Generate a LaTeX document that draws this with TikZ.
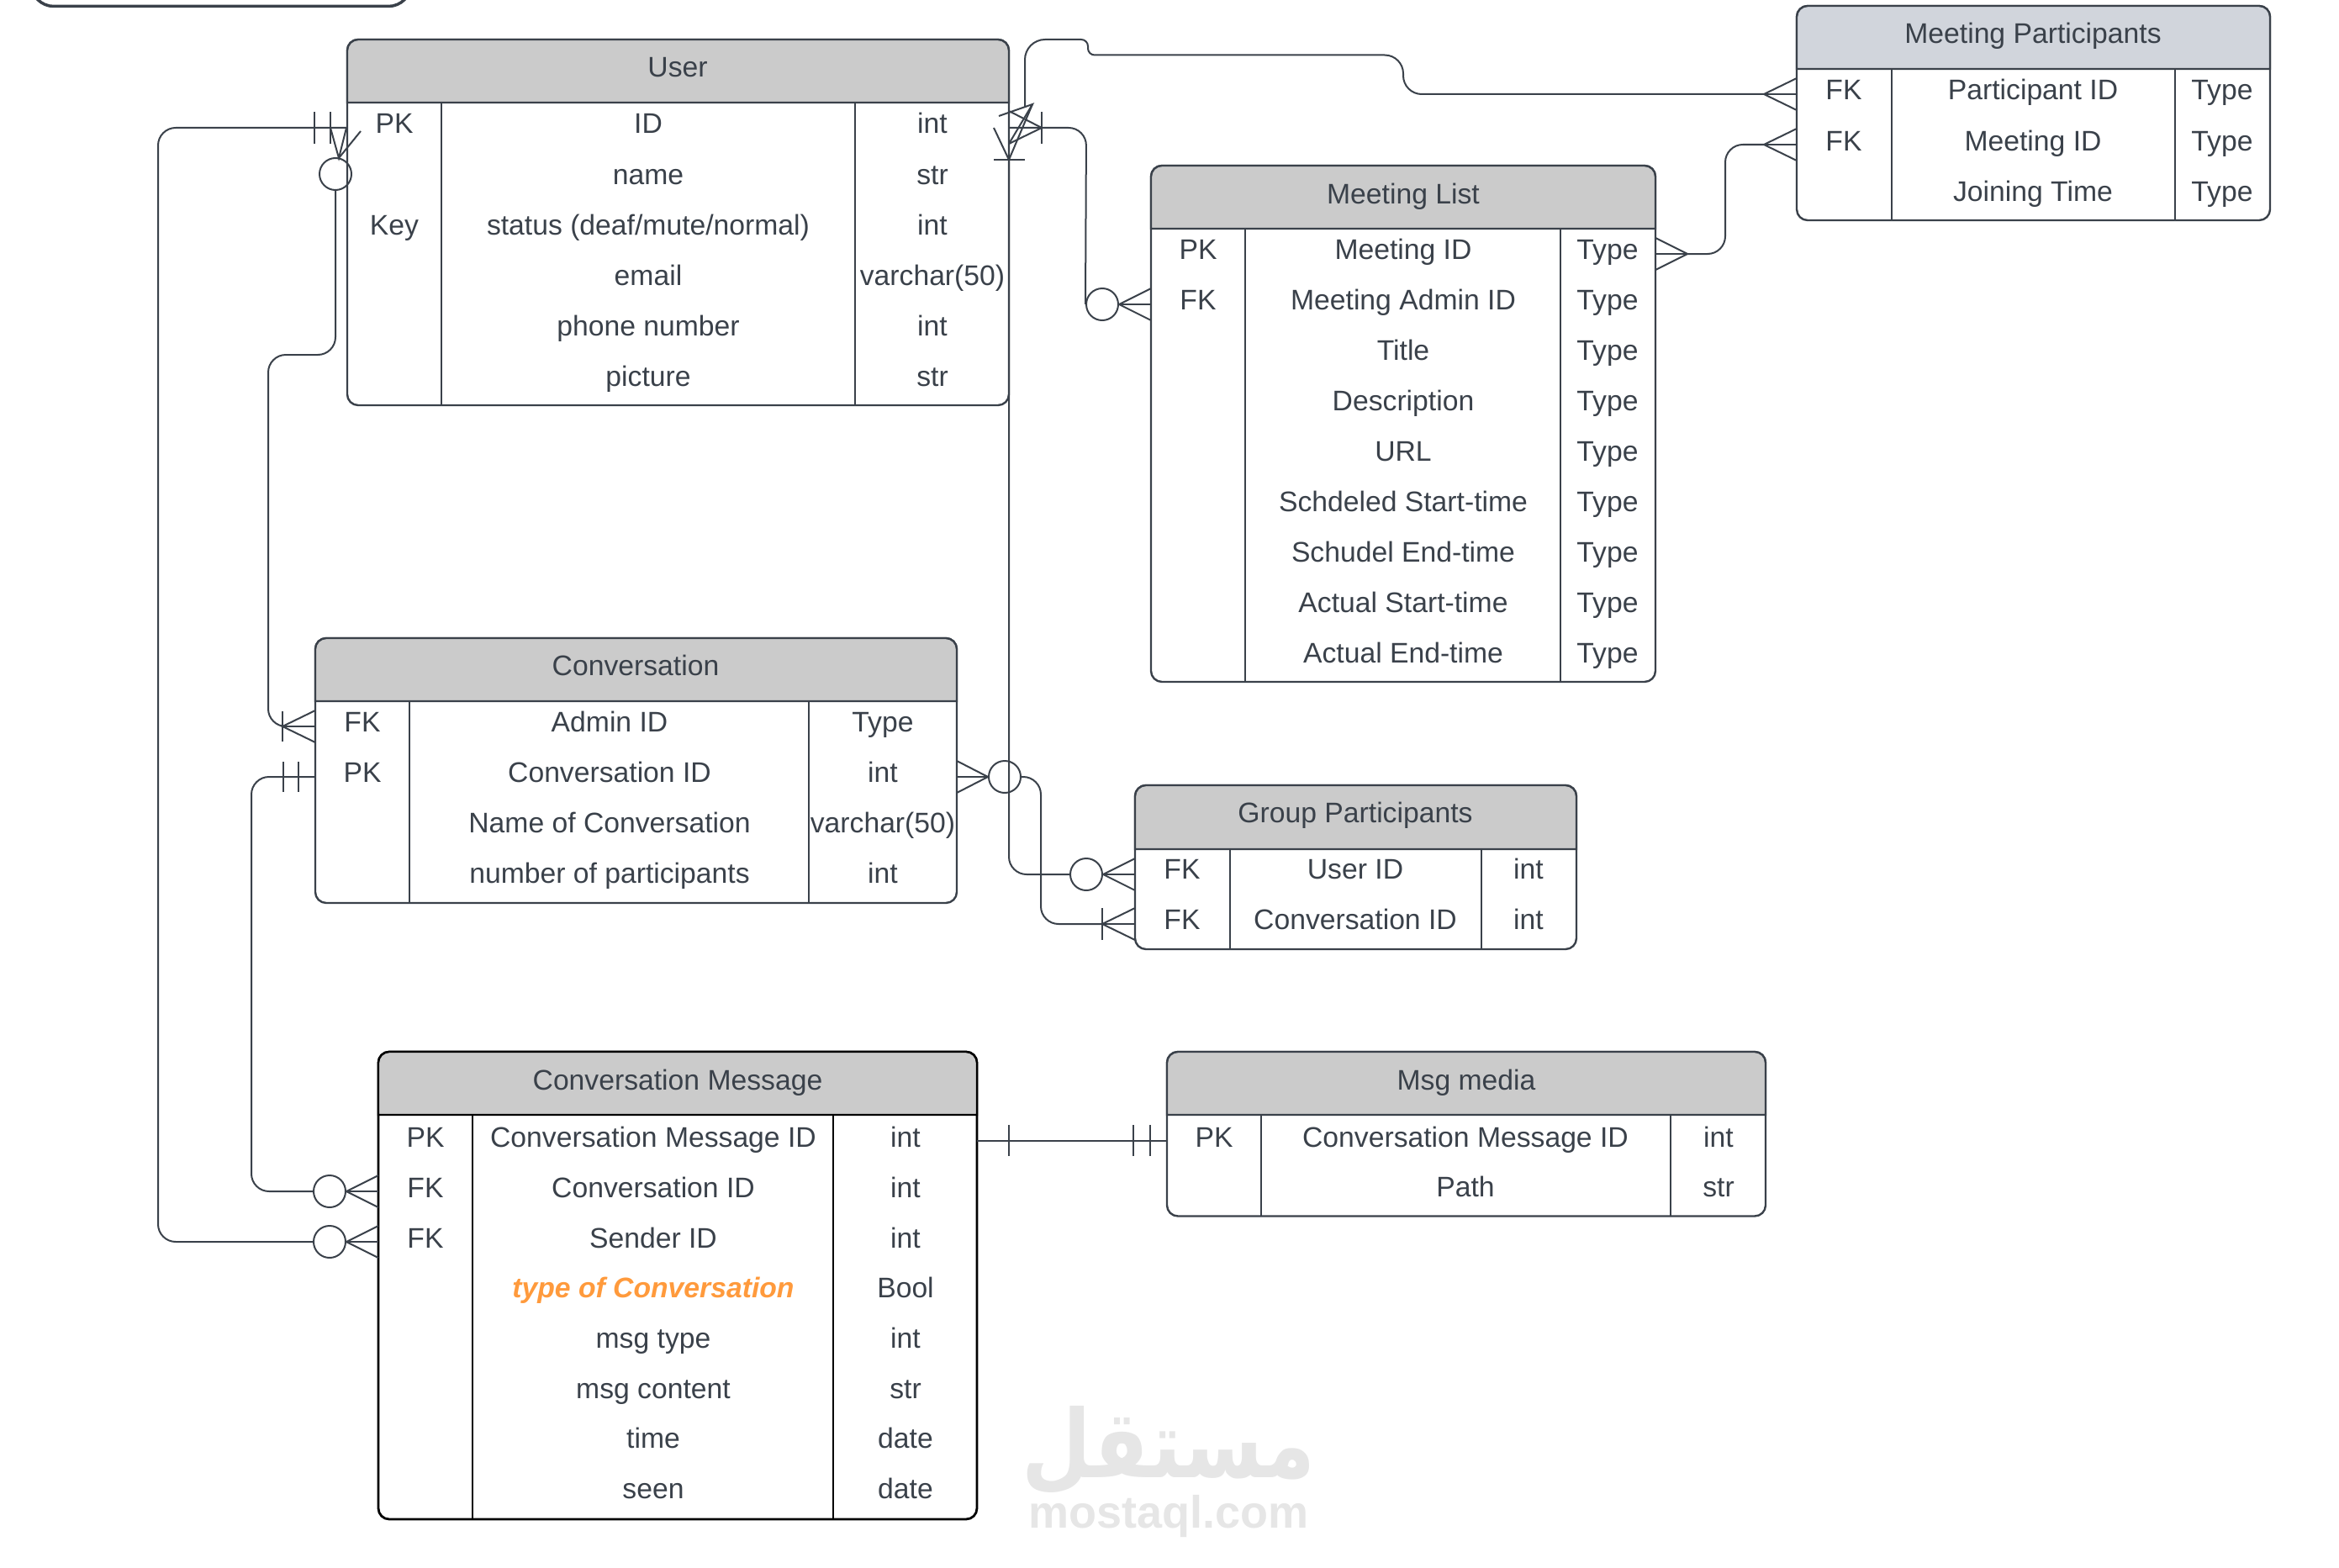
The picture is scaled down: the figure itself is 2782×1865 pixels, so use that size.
\documentclass[tikz,border=0pt]{standalone}
\usepackage{fontspec}
\setmainfont{Liberation Sans}
\newfontfamily\arabicfont[Script=Arabic]{DejaVu Sans}
\TeXXeTstate=1
\definecolor{inkgray}{HTML}{3A414A}
\definecolor{headgray}{HTML}{CBCBCB}
\definecolor{headblue}{HTML}{D1D5DC}
\definecolor{markgray}{HTML}{E6E6E6}
\definecolor{typeorange}{HTML}{FF9A3C}
\tikzset{
    tablebox/.style={draw=inkgray,line width=2.4pt,rounded corners=13pt},
    headbox/.style={draw=inkgray,line width=2.4pt,fill=headgray},
    colline/.style={draw=inkgray,line width=1.8pt},
    link/.style={draw=inkgray,line width=2pt},
    zero/.style={circle,draw=inkgray,line width=2pt,minimum size=38pt,inner sep=0pt},
    cell/.style={anchor=base,inner sep=0pt,text=inkgray,font=\fontsize{33.7}{40}\selectfont},
}

\begin{document}
\begin{tikzpicture}[x=1pt,y=-1pt]
    \clip (0,0) rectangle (2782,1865);
    \draw[draw=inkgray,line width=3.5pt,rounded corners=27pt] (37,-60) rectangle (489,7.5);

    % User
    \draw[tablebox] (413,47) rectangle (1200,482);
    \draw[headbox] (413,122) [rounded corners=13pt] -- (413,47) -- (1200,47) [sharp corners] -- (1200,122) -- cycle;
    \draw[colline] (525,122) -- (525,482);
    \draw[colline] (1017,122) -- (1017,482);
    \node[cell] (user-title) at (806,92) {User};
    \node[cell] (user-pk) at (469,159) {PK};
    \node[cell] (user-id) at (771,159) {ID};
    \node[cell] (user-idt) at (1109,159) {int};
    \node[cell] (user-name) at (771,219) {name};
    \node[cell] (user-namet) at (1109,219) {str};
    \node[cell] (user-key) at (469,279) {Key};
    \node[cell] (user-status) at (771,279) {status (deaf/mute/normal)};
    \node[cell] (user-statust) at (1109,279) {int};
    \node[cell] (user-email) at (771,339) {email};
    \node[cell] (user-emailt) at (1109,339) {varchar(50)};
    \node[cell] (user-phone) at (771,399) {phone number};
    \node[cell] (user-phonet) at (1109,399) {int};
    \node[cell] (user-pic) at (771,459) {picture};
    \node[cell] (user-pict) at (1109,459) {str};

    % Meeting List
    \draw[tablebox] (1369,197) rectangle (1969,811);
    \draw[headbox] (1369,272) [rounded corners=13pt] -- (1369,197) -- (1969,197) [sharp corners] -- (1969,272) -- cycle;
    \draw[colline] (1481,272) -- (1481,811);
    \draw[colline] (1856,272) -- (1856,811);
    \node[cell] (meet-title) at (1669,242) {Meeting List};
    \node[cell] (meet-pk) at (1425,308) {PK};
    \node[cell] (meet-id) at (1669,308) {Meeting ID};
    \node[cell] (meet-idt) at (1912,308) {Type};
    \node[cell] (meet-fk) at (1425,368) {FK};
    \node[cell] (meet-admin) at (1669,368) {Meeting Admin ID};
    \node[cell] (meet-admint) at (1912,368) {Type};
    \node[cell] (meet-ttl) at (1669,428) {Title};
    \node[cell] (meet-ttlt) at (1912,428) {Type};
    \node[cell] (meet-desc) at (1669,488) {Description};
    \node[cell] (meet-desct) at (1912,488) {Type};
    \node[cell] (meet-url) at (1669,548) {URL};
    \node[cell] (meet-urlt) at (1912,548) {Type};
    \node[cell] (meet-sst) at (1669,608) {Schdeled Start-time};
    \node[cell] (meet-sstt) at (1912,608) {Type};
    \node[cell] (meet-set) at (1669,668) {Schudel End-time};
    \node[cell] (meet-sett) at (1912,668) {Type};
    \node[cell] (meet-ast) at (1669,728) {Actual Start-time};
    \node[cell] (meet-astt) at (1912,728) {Type};
    \node[cell] (meet-aet) at (1669,788) {Actual End-time};
    \node[cell] (meet-aett) at (1912,788) {Type};

    % Meeting Participants
    \draw[tablebox] (2137,7) rectangle (2700,262);
    \draw[headbox,fill=headblue] (2137,82) [rounded corners=13pt] -- (2137,7) -- (2700,7) [sharp corners] -- (2700,82) -- cycle;
    \draw[colline] (2250,82) -- (2250,262);
    \draw[colline] (2587,82) -- (2587,262);
    \node[cell] (part-title) at (2418,52) {Meeting Participants};
    \node[cell] (part-fka) at (2193,119) {FK};
    \node[cell] (part-id) at (2418,119) {Participant ID};
    \node[cell] (part-idt) at (2643,119) {Type};
    \node[cell] (part-fkb) at (2193,179) {FK};
    \node[cell] (part-meet) at (2418,179) {Meeting ID};
    \node[cell] (part-meett) at (2643,179) {Type};
    \node[cell] (part-join) at (2418,239) {Joining Time};
    \node[cell] (part-joint) at (2643,239) {Type};

    % Conversation
    \draw[tablebox] (375,759) rectangle (1138,1074);
    \draw[headbox] (375,834) [rounded corners=13pt] -- (375,759) -- (1138,759) [sharp corners] -- (1138,834) -- cycle;
    \draw[colline] (487,834) -- (487,1074);
    \draw[colline] (962,834) -- (962,1074);
    \node[cell] (conv-title) at (756,803) {Conversation};
    \node[cell] (conv-fk) at (431,870) {FK};
    \node[cell] (conv-admin) at (725,870) {Admin ID};
    \node[cell] (conv-admint) at (1050,870) {Type};
    \node[cell] (conv-pk) at (431,930) {PK};
    \node[cell] (conv-id) at (725,930) {Conversation ID};
    \node[cell] (conv-idt) at (1050,930) {int};
    \node[cell] (conv-name) at (725,990) {Name of Conversation};
    \node[cell] (conv-namet) at (1050,990) {varchar(50)};
    \node[cell] (conv-num) at (725,1050) {number of participants};
    \node[cell] (conv-numt) at (1050,1050) {int};

    % Group Participants
    \draw[tablebox] (1350,934) rectangle (1875,1129);
    \draw[headbox] (1350,1010) [rounded corners=13pt] -- (1350,934) -- (1875,934) [sharp corners] -- (1875,1010) -- cycle;
    \draw[colline] (1463,1010) -- (1463,1129);
    \draw[colline] (1762,1010) -- (1762,1129);
    \node[cell] (grp-title) at (1612,978) {Group Participants};
    \node[cell] (grp-fka) at (1406,1045.5) {FK};
    \node[cell] (grp-user) at (1612,1045.5) {User ID};
    \node[cell] (grp-usert) at (1818,1045.5) {int};
    \node[cell] (grp-fkb) at (1406,1105) {FK};
    \node[cell] (grp-conv) at (1612,1105) {Conversation ID};
    \node[cell] (grp-convt) at (1818,1105) {int};

    % Conversation Message
    \draw[tablebox,draw=black,line width=2.8pt] (450,1251) rectangle (1162,1807);
    \draw[headbox,draw=black] (450,1326) [rounded corners=13pt] -- (450,1251) -- (1162,1251) [sharp corners] -- (1162,1326) -- cycle;
    \draw[colline,draw=black] (562,1326) -- (562,1807);
    \draw[colline,draw=black] (991,1326) -- (991,1807);
    \node[cell] (msg-title) at (806,1296) {Conversation Message};
    \node[cell] (msg-pk) at (506,1364) {PK};
    \node[cell] (msg-id) at (777,1364) {Conversation Message ID};
    \node[cell] (msg-idt) at (1077,1364) {int};
    \node[cell] (msg-fka) at (506,1424) {FK};
    \node[cell] (msg-conv) at (777,1424) {Conversation ID};
    \node[cell] (msg-convt) at (1077,1424) {int};
    \node[cell] (msg-fkb) at (506,1484) {FK};
    \node[cell] (msg-send) at (777,1484) {Sender ID};
    \node[cell] (msg-sendt) at (1077,1484) {int};
    \node[cell,text=typeorange,font=\fontsize{33.7}{40}\selectfont\bfseries\itshape] (msg-type) at (777,1543) {type of Conversation};
    \node[cell] (msg-typet) at (1077,1543) {Bool};
    \node[cell] (msg-mtype) at (777,1603) {msg type};
    \node[cell] (msg-mtypet) at (1077,1603) {int};
    \node[cell] (msg-cont) at (777,1663) {msg content};
    \node[cell] (msg-contt) at (1077,1663) {str};
    \node[cell] (msg-time) at (777,1722) {time};
    \node[cell] (msg-timet) at (1077,1722) {date};
    \node[cell] (msg-seen) at (777,1782) {seen};
    \node[cell] (msg-seent) at (1077,1782) {date};

    % Msg media
    \draw[tablebox] (1388,1251) rectangle (2100,1446.5);
    \draw[headbox] (1388,1326) [rounded corners=13pt] -- (1388,1251) -- (2100,1251) [sharp corners] -- (2100,1326) -- cycle;
    \draw[colline] (1500,1326) -- (1500,1446.5);
    \draw[colline] (1987,1326) -- (1987,1446.5);
    \node[cell] (media-title) at (1744,1296) {Msg media};
    \node[cell] (media-pk) at (1444,1364) {PK};
    \node[cell] (media-id) at (1743,1364) {Conversation Message ID};
    \node[cell] (media-idt) at (2044,1364) {int};
    \node[cell] (media-path) at (1743,1423) {Path};
    \node[cell] (media-patht) at (2044,1423) {str};

    % end points of the connectors
    \coordinate (user-w) at (412,152);
    \coordinate (user-e) at (1200,152);
    \coordinate (user-up) at (1219,128);
    \coordinate (user-dn) at (1200,190);
    \coordinate (meet-e) at (2007,302);
    \coordinate (part-a) at (2098,112);
    \coordinate (part-b) at (2098,172);
    \coordinate (conv-a) at (336,864);
    \coordinate (conv-b) at (375,924);
    \coordinate (grp-b) at (1311,1099);
    \coordinate (msg-e) at (1162,1356.5);
    \coordinate (media-w) at (1388,1356.5);

    \node[zero] (zero-user) at (399,207) {};
    \node[zero] (zero-meet) at (1311,362) {};
    \node[zero] (zero-conv) at (1195,924) {};
    \node[zero] (zero-grp) at (1292,1040) {};
    \node[zero] (zero-msga) at (392,1417) {};
    \node[zero] (zero-msgb) at (392,1477) {};

    % connectors
    \draw[link,rounded corners=21pt] (user-w) -- (188,152) -- (188,1477) -- (zero-msgb.west);
    \draw[link,rounded corners=21pt] (zero-user.south) -- (399,422) -- (319,422) -- (319,864) -- (conv-a);
    \draw[link,rounded corners=21pt] (user-e) -- (1292,152) -- (zero-meet.west);
    \draw[link] (user-up) [rounded corners=24pt] -- (1219,47) [rounded corners=8pt] -- (1294,47) -- (1294,65.5) [rounded corners=22pt] -- (1669,65.5) -- (1669,112) -- (part-a);
    \draw[link,rounded corners=21pt] (meet-e) -- (2052,302) -- (2052,172) -- (part-b);
    \draw[link,rounded corners=21pt] (user-dn) -- (1200,1040) -- (zero-grp.west);
    \draw[link,rounded corners=21pt] (zero-conv.east) -- (1238,924) -- (1238,1099) -- (grp-b);
    \draw[link,rounded corners=21pt] (conv-b) -- (299,924) -- (299,1417) -- (zero-msga.west);
    \draw[link] (msg-e) -- (media-w);

    % bars
    \draw[link] (374,133) -- (374,171);
    \draw[link] (393,133) -- (393,171);
    \draw[link] (1239,133) -- (1239,171);
    \draw[link] (1182,190) -- (1219,190);
    \draw[link] (336,846) -- (336,882);
    \draw[link] (337,906) -- (337,942);
    \draw[link] (355,906) -- (355,942);
    \draw[link] (1311,1080) -- (1311,1118);
    \draw[link] (1200,1338) -- (1200,1375);
    \draw[link] (1348,1338) -- (1348,1375);
    \draw[link] (1368,1338) -- (1368,1375);

    % crow feet
    \draw[link] (393,152) -- (403,188) -- (412,152);
    \draw[link] (403,188) -- (429,156);
    \draw[link] (1200,132) -- (1239,152) -- (1200,171);
    \draw[link] (1182,152) -- (1200,190) -- (1228,124);
    \draw[link] (1188,138) -- (1228,124) -- (1200,171);
    \draw[link] (1369,343) -- (zero-meet.east) -- (1369,381);
    \draw[link] (zero-meet.east) -- (1369,362);
    \draw[link] (1969,283) -- (meet-e) -- (1969,321);
    \draw[link] (meet-e) -- (1969,302);
    \draw[link] (2137,93) -- (part-a) -- (2137,131);
    \draw[link] (part-a) -- (2137,112);
    \draw[link] (2137,153) -- (part-b) -- (2137,191);
    \draw[link] (part-b) -- (2137,172);
    \draw[link] (375,845) -- (conv-a) -- (375,883);
    \draw[link] (conv-a) -- (375,864);
    \draw[link] (1138,905) -- (zero-conv.west) -- (1138,943);
    \draw[link] (zero-conv.west) -- (1138,924);
    \draw[link] (1350,1021) -- (zero-grp.east) -- (1350,1059);
    \draw[link] (zero-grp.east) -- (1350,1040);
    \draw[link] (1350,1080) -- (grp-b) -- (1350,1118);
    \draw[link] (grp-b) -- (1350,1099);
    \draw[link] (450,1398) -- (zero-msga.east) -- (450,1436);
    \draw[link] (zero-msga.east) -- (450,1417);
    \draw[link] (450,1458) -- (zero-msgb.east) -- (450,1496);
    \draw[link] (zero-msgb.east) -- (450,1477);

    % watermark
    \node[anchor=base,inner sep=0pt,text=markgray,font=\fontsize{112}{120}\selectfont\bfseries\arabicfont] (mark-ar) at (1390,1757) {\scalebox{.85}[1]{\beginR مستقل\endR}};
    \node[anchor=base,inner sep=0pt,text=markgray,font=\fontsize{54}{60}\selectfont\bfseries] (mark-en) at (1390,1817) {mostaql.com};
\end{tikzpicture}
\end{document}
